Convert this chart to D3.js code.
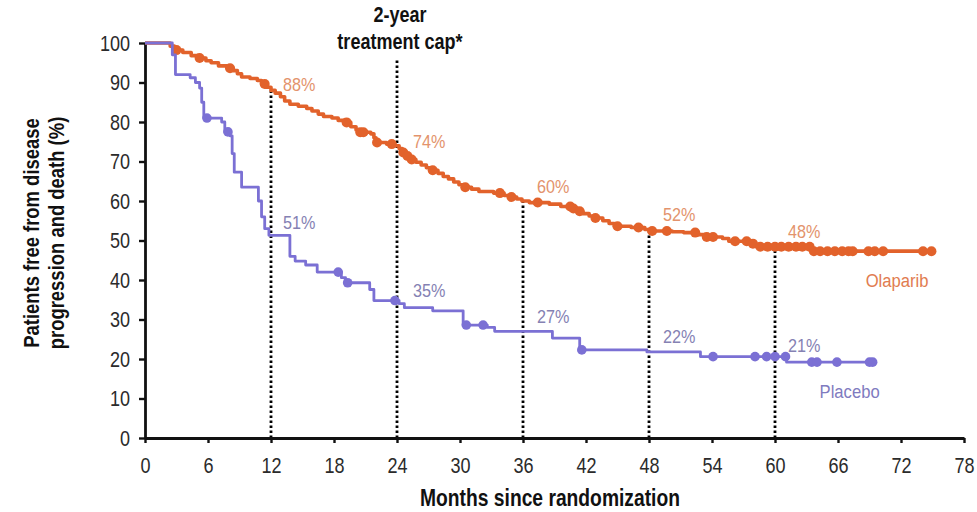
<!DOCTYPE html>
<html>
<head>
<meta charset="utf-8">
<script src="https://cdn.jsdelivr.net/npm/d3@7"></script>
<style>
  html, body { margin: 0; padding: 0; background: #fff; }
  svg { display: block; }
  text { font-family: "Liberation Sans", Arial, Helvetica, sans-serif; }
</style>
</head>
<body>
<svg id="chart" width="977" height="512"></svg>
<script>
// Kaplan–Meier steps: [month, % free from progression/death]
const olaparibSteps = [
  [0,100],[2.4,99.2],[2.8,98.2],[3.6,97.6],[4.4,96.8],[5.0,96.2],[5.8,95.5],[6.3,95],
  [7.0,94.2],[7.8,93.6],[8.4,93],[8.8,92.2],[9.2,91.4],[10.0,91],[10.7,90.5],[11.1,89.6],
  [11.5,88.8],[12.0,88],[12.4,87.3],[12.9,86.4],[13.3,85.3],[13.8,84.5],[14.6,84],
  [15.4,83.4],[15.9,82.8],[16.5,82],[17.0,81.4],[17.8,81],[18.4,80.4],[19.0,79.9],
  [19.6,78.8],[20.1,78],[20.4,77.4],[21.5,77],[21.8,76],[22.0,74.8],[23.0,74.4],
  [23.8,74],[24.2,73.3],[24.5,72.3],[24.9,71.4],[25.3,70.5],[25.8,69.8],[26.3,69.1],
  [26.8,68.4],[27.3,67.8],[27.9,67],[28.4,66.2],[28.9,65.6],[29.4,64.8],[29.9,64.1],
  [30.4,63.5],[31.1,63],[31.8,62.4],[33.2,62],[34.2,61.4],[34.8,61],[35.4,60.5],
  [35.9,60],[36.6,59.6],[38.5,59.2],[39.6,58.6],[40.8,58.1],[41.3,57.4],[41.7,56.8],
  [42.3,56.2],[42.9,55.7],[43.6,55],[44.2,54.3],[44.7,53.6],[46.3,53.3],[47.6,52.8],
  [48.0,52.4],[50.2,52.2],[51.3,52],[52.7,51.5],[53.3,50.9],[55.0,50.5],[55.6,49.8],
  [57.6,49.2],[58.2,48.4],[63.5,47.3]
];
const olaparibEnd = 75;
const olaparibCensored = [
  3.0,5.2,8.1,11.4,19.2,20.5,20.8,22.1,23.5,24.6,25.0,25.4,27.4,30.5,33.8,34.9,37.4,
  40.5,40.8,41.4,42.9,45.0,47.0,48.3,49.7,52.4,53.5,54.1,56.2,57.3,57.9,58.6,59.3,60.0,
  60.6,61.3,62.0,62.6,63.3,63.7,64.3,65.0,65.7,66.4,67.0,67.4,68.9,69.5,70.3,74.1,74.9
];

const placeboSteps = [
  [0,100],[2.6,97],[2.9,92],[4.3,91.2],[4.8,90],[5.2,88.6],[5.4,85],[5.6,81],[7.3,80],
  [7.6,77.5],[8.1,76.5],[8.3,72],[8.5,67.3],[9.2,63.5],[10.8,60],[11.1,56],[11.4,53],
  [11.8,51.3],[13.8,46],[14.3,44.8],[15.3,43.8],[16.4,42],[18.7,40.6],[19.1,39.3],
  [21.4,37.6],[21.8,34.8],[24.2,34.0],[24.7,33.0],[27.4,32.2],[30.3,28.6],[32.6,28.0],
  [33.3,27.0],[38.8,25.3],[41.4,22.3],[47.8,21.8],[52.9,20.6],[61.1,19.2]
];
const placeboEnd = 69.3;
const placeboCensored = [
  5.9,7.9,18.4,19.3,23.8,30.6,32.2,41.6,54.1,58.1,59.2,60.0,61.0,63.5,64.0,65.9,69.0,69.3
];

// Landmark estimates
const landmarkMonths = [12, 24, 36, 48, 60];
const olaparibLandmark = [88, 74, 60, 52, 48];
const placeboLandmark = [51, 35, 27, 22, 21];

// Axis ticks
const xTicks = [0, 6, 12, 18, 24, 30, 36, 42, 48, 54, 60, 66, 72, 78];
const yTicks = [0, 10, 20, 30, 40, 50, 60, 70, 80, 90, 100];

const capMonth = 24;
const capLabel = ["2-year", "treatment cap*"];
const xTitle = "Months since randomization";
const yTitle = ["Patients free from disease", "progression and death (%)"];
const seriesNames = ["Olaparib", "Placebo"];

// ---- layout & style ----
const C = {
  ola: "#e2622b", olaText: "#e3936c", olaName: "#e17c50",
  pla: "#7b70d4", plaText: "#8581b3", plaName: "#7f7bc0",
  axis: "#111", tickText: "#2b2b2b"
};
const NARROW = 0.82;

const svg = d3.select("#chart");
const x = d3.scaleLinear().domain([0, 78]).range([145, 964]);
const y = d3.scaleLinear().domain([0, 100]).range([438, 43]);

function valueAt(steps, t) {
  let v = steps[0][1];
  for (const [st, sv] of steps) { if (st <= t) v = sv; else break; }
  return v;
}

function label(sel, px, py, str, opts) {
  const sx = opts.sx ?? NARROW;
  return sel.append("text")
    .attr("transform", `translate(${px},${py}) ${opts.rotate ? "rotate(-90)" : ""} scale(${sx},1)`)
    .attr("text-anchor", opts.anchor || "start")
    .attr("font-size", opts.size)
    .attr("font-weight", opts.weight || "normal")
    .attr("fill", opts.fill || "#000")
    .text(str);
}

// ---- landmark dotted lines ----
const guides = svg.append("g");
landmarkMonths.forEach((m, i) => {
  const top = m === capMonth ? 60 : y(olaparibLandmark[i]);
  guides.append("line")
    .attr("x1", x(m)).attr("x2", x(m))
    .attr("y1", y(0)).attr("y2", top)
    .attr("stroke", "#000").attr("stroke-width", 2.8)
    .attr("stroke-dasharray", "2.5 2.5");
});

// ---- axes ----
const yAxis = d3.axisLeft(y).tickValues(yTicks).tickSize(6).tickSizeOuter(0).tickPadding(9);
const xAxis = d3.axisBottom(x).tickValues(xTicks).tickSize(5).tickSizeOuter(0).tickPadding(14);

const gx = svg.append("g").attr("transform", `translate(0,${y(0)})`).call(xAxis);
const gy = svg.append("g").attr("transform", `translate(${x(0)},0)`).call(yAxis);

[gx, gy].forEach(g => {
  g.select(".domain").attr("stroke", C.axis).attr("stroke-width", 2.8);
  g.selectAll(".tick line").attr("stroke", C.axis).attr("stroke-width", 2.4);
  g.selectAll(".tick text")
    .attr("font-size", 22)
    .attr("fill", C.tickText)
    .attr("font-family", '"Liberation Sans", Arial, sans-serif');
});
gx.selectAll(".tick text").attr("transform", `scale(${NARROW},1)`);
gy.selectAll(".tick text").attr("transform", `scale(${NARROW},1)`).attr("x", -15 / NARROW);

// ---- curves ----
const line = d3.line().x(d => x(d[0])).y(d => y(d[1])).curve(d3.curveStepAfter);

function drawSeries(steps, end, censored, color, width, r) {
  const pts = steps.concat([[end, steps[steps.length - 1][1]]]);
  svg.append("path").datum(pts)
    .attr("fill", "none").attr("stroke", color)
    .attr("stroke-width", width).attr("stroke-linejoin", "round")
    .attr("d", line);
  svg.append("g").selectAll("circle").data(censored).join("circle")
    .attr("cx", d => x(d)).attr("cy", d => y(valueAt(steps, d)))
    .attr("r", r).attr("fill", color);
}
drawSeries(olaparibSteps, olaparibEnd, olaparibCensored, C.ola, 3.6, 5);
drawSeries(placeboSteps, placeboEnd, placeboCensored, C.pla, 2.8, 4.8);

// ---- landmark percentages ----
const olaDy = [1, 2, -8, -12, -10];
const plaDy = [-8, -3, -8, -8, -3];
const olaDx = [12, 16, 14, 14, 13];
const pcts = svg.append("g");
landmarkMonths.forEach((m, i) => {
  label(pcts, x(m) + olaDx[i], y(olaparibLandmark[i]) + olaDy[i], olaparibLandmark[i] + "%",
        { size: 18, sx: 0.9, fill: C.olaText });
  label(pcts, x(m) + olaDx[i], y(placeboLandmark[i]) + plaDy[i], placeboLandmark[i] + "%",
        { size: 18, sx: 0.9, fill: C.plaText });
});

// ---- series names ----
label(svg, x(olaparibEnd) - 4, 287, seriesNames[0], { size: 18.5, sx: 0.9, anchor: "end", fill: C.olaName });
label(svg, x(placeboEnd) + 7, 398, seriesNames[1], { size: 18.5, sx: 0.9, anchor: "end", fill: C.plaName });

// ---- annotation & titles ----
label(svg, x(capMonth) + 3, 22, capLabel[0], { size: 22, weight: "bold", anchor: "middle", fill: "#111" });
label(svg, x(capMonth) + 3, 49, capLabel[1], { size: 22, weight: "bold", anchor: "middle", fill: "#111" });

label(svg, 550, 506, xTitle, { size: 23.5, weight: "bold", anchor: "middle", fill: "#111" });
label(svg, 39, 233, yTitle[0], { size: 22.5, weight: "bold", anchor: "middle", rotate: true, fill: "#111" });
label(svg, 64, 233, yTitle[1], { size: 22.5, weight: "bold", anchor: "middle", rotate: true, fill: "#111" });
</script>
</body>
</html>
